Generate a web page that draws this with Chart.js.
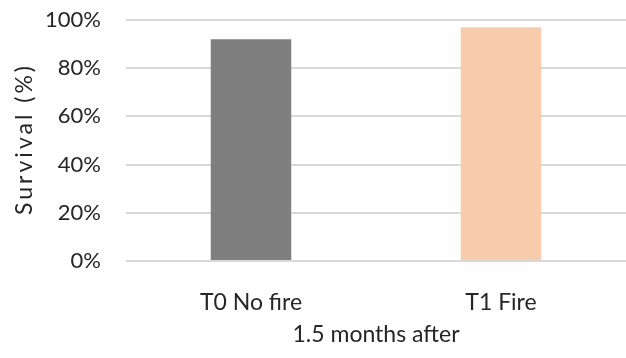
<!DOCTYPE html>
<html>
<head>
<meta charset="utf-8">
<script src="https://cdn.jsdelivr.net/npm/chart.js@4/dist/chart.umd.min.js"></script>
<style>
  html, body { margin: 0; padding: 0; background: #ffffff; }
  #wrap { width: 626px; height: 358px; position: relative; }
</style>
</head>
<body>
<div id="wrap"><canvas id="chart"></canvas></div>
<script>
// Survival by treatment, 1.5 months after the burn
const categories = ['T0 No fire', 'T1 Fire'];
const survival = [92, 97];
const barColors = ['#7f7f7f', '#f8cbad'];
const yTicks = [0, 20, 40, 60, 80, 100];
const yTitle = 'Survival (%)';
const xTitle = '1.5 months after';

const textColor = '#262626';
const fontFamily = 'Lato, "Open Sans", sans-serif';

// Vertical axis title, drawn with a little letter spacing
const yTitlePlugin = {
  id: 'yTitle',
  afterDraw(chart) {
    const { ctx, chartArea } = chart;
    ctx.save();
    ctx.font = '23px ' + fontFamily;
    ctx.fillStyle = textColor;
    if ('letterSpacing' in ctx) ctx.letterSpacing = '3px';
    ctx.textAlign = 'center';
    ctx.textBaseline = 'middle';
    ctx.translate(25, (chartArea.top + chartArea.bottom) / 2);
    ctx.rotate(-Math.PI / 2);
    ctx.fillText(yTitle, 1.5, 0);
    ctx.restore();
  }
};

new Chart(document.getElementById('chart'), {
  type: 'bar',
  data: {
    labels: categories,
    datasets: [{
      data: survival,
      backgroundColor: barColors,
      borderWidth: 0,
      categoryPercentage: 1,
      barPercentage: 0.322
    }]
  },
  plugins: [yTitlePlugin],
  options: {
    responsive: true,
    maintainAspectRatio: false,
    animation: false,
    layout: { padding: { top: 20, left: 10, right: -3, bottom: 0 } },
    plugins: { legend: { display: false }, tooltip: { enabled: false } },
    scales: {
      x: {
        grid: { display: false, drawTicks: false },
        border: { display: false },
        ticks: { color: textColor, font: { family: fontFamily, size: 23 }, padding: 28 },
        title: {
          display: true,
          text: xTitle,
          color: textColor,
          font: { family: fontFamily, size: 23 },
          padding: { top: 0, bottom: 10 }
        },
        afterFit: (s) => { s.height = 97; }
      },
      y: {
        min: 0,
        max: 100,
        afterBuildTicks: (s) => { s.ticks = yTicks.map(v => ({ value: v })); },
        grid: {
          color: '#d9d9d9',
          lineWidth: 2,
          drawTicks: true,
          tickLength: 25,
          tickColor: 'rgba(0,0,0,0)'
        },
        border: { display: false },
        ticks: {
          color: textColor,
          font: { family: fontFamily, size: 22 },
          padding: 0,
          callback: (v) => v + '%'
        },
        title: { display: false },
        afterFit: (s) => { s.width = 116; }
      }
    }
  }
});
</script>
</body>
</html>
